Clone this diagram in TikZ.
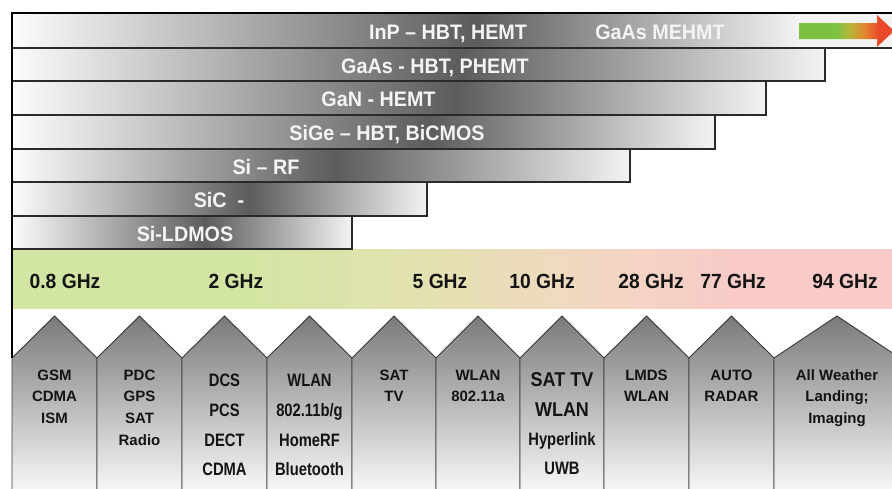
\documentclass[tikz,border=0pt]{standalone}
\usepackage{fontspec}
\setmainfont{Liberation Sans}
\newfontfamily\barfont[FakeStretch=0.94]{Liberation Sans}
\newfontfamily\narfont[FakeStretch=0.82]{Liberation Sans}
\newfontfamily\midfont[FakeStretch=0.9]{Liberation Sans}
\definecolor{barDark}{HTML}{5C5C5C}
\definecolor{barLight}{HTML}{F3F3F3}
\definecolor{barWhite}{HTML}{FCFCFC}
\definecolor{barEdge}{HTML}{2A2A2A}
\definecolor{barText}{HTML}{F4F4F4}
\definecolor{bandGreen}{HTML}{D3E5A3}
\definecolor{bandYellow}{HTML}{E5E1B2}
\definecolor{bandBeige}{HTML}{F1D9C1}
\definecolor{bandPink}{HTML}{F8CAC8}
\definecolor{penTop}{HTML}{7A7A7A}
\definecolor{penBot}{HTML}{F8F8F8}
\definecolor{penEdge}{HTML}{383838}
\definecolor{appText}{HTML}{141414}
\definecolor{agreen}{HTML}{7DC143}
\definecolor{ayellow}{HTML}{B3B83A}
\definecolor{aorange}{HTML}{E0892F}
\definecolor{ared}{HTML}{E9482A}
\pgfdeclarehorizontalshading{arrowshade}{100bp}{color(0bp)=(agreen); color(45bp)=(agreen); color(51bp)=(ayellow); color(59bp)=(aorange); color(67bp)=(ared); color(100bp)=(ared)}
\pgfdeclarehorizontalshading{bandshade}{100bp}{color(0bp)=(bandGreen); color(38.5bp)=(bandGreen); color(49.3bp)=(bandYellow); color(56.7bp)=(bandBeige); color(66.4bp)=(bandPink); color(100bp)=(bandPink)}
\newcommand\techbar[5]{%
  \shade[left color=barWhite,right color=barDark] (12,#1) rectangle (#3+0.5,#2);
  \shade[left color=barDark,right color=barLight] (#3,#1) rectangle (#4,#2);
  \fill[barLight] (#4-0.5,#1) rectangle (#5,#2);
  \draw[barline] (12,#1) rectangle (#5,#2);}
\tikzset{
  barline/.style={draw=barEdge, line width=1.3},
  barlabel/.style={anchor=base, inner sep=0, text=barText, font=\barfont\bfseries\fontsize{21}{24}\selectfont},
  freqlabel/.style={anchor=base, inner sep=0, text=appText, font=\barfont\bfseries\fontsize{20.5}{24}\selectfont},
  apptext/.style={anchor=base, inner sep=0, text=appText, font=\bfseries\fontsize{15}{18}\selectfont},
  appnarrow/.style={anchor=base, inner sep=0, text=appText, font=\narfont\bfseries\fontsize{18}{20}\selectfont},
  appbig/.style={anchor=base, inner sep=0, text=appText, font=\midfont\bfseries\fontsize{20}{22}\selectfont},
  pentagon/.style={top color=penTop, bottom color=penBot, draw=penEdge, line width=0.9},
}
\begin{document}
\begin{tikzpicture}[x=1pt,y=-1pt]
\useasboundingbox (0,0) rectangle (892,488);
\begin{scope}
\clip (0,0) rectangle (892,488);
\fill[white] (0,0) rectangle (892,488);
% frequency band
\shade[shading=bandshade] (12,249) rectangle (892,308);
% technology bars
\techbar{216}{249}{205}{352}{352}
\techbar{182}{216}{250}{427}{427}
\techbar{149}{182}{335}{630}{630}
\techbar{115}{149}{430}{715}{715}
\techbar{81}{115}{455}{766}{766}
\techbar{48}{81}{460}{825}{825}
\techbar{13}{48}{475}{800}{900}
\draw[black, line width=1.6] (12,13) -- (892,13);
% application pentagons
\foreach \l/\r/\p in {12/97/54.5, 97/182/139.5, 182/267/224.5, 267/352/309.5, 352/436/394, 436/520/478, 520/604/562, 604/689/646.5, 689/774/731.5}
  \shadedraw[pentagon] (\l,492) -- (\l,358) -- (\p,316) -- (\r,358) -- (\r,492) -- cycle;
\shadedraw[pentagon] (774,492) -- (774,358) -- (837,316) -- (900,358) -- (900,492) -- cycle;
% arrow
\shade[shading=arrowshade] (799,23) -- (877,23) -- (877,15) -- (894,31) -- (877,47) -- (877,39) -- (799,39) -- cycle;
\draw[black, line width=2.4] (12,12.2) -- (12,358);
\end{scope}
% bar labels
\node[barlabel] (inp) at (448,39) {InP – HBT, HEMT};
\node[barlabel] (mehmt) at (660,39) {GaAs MEHMT};
\node[barlabel] (gaas) at (435,73) {GaAs - HBT, PHEMT};
\node[barlabel] (gan) at (378.5,106.5) {GaN - HEMT};
\node[barlabel] (sige) at (387,140.5) {SiGe – HBT, BiCMOS};
\node[barlabel] (sirf) at (266,174) {Si – RF};
\node[barlabel] (sic) at (219,207.5) {SiC\ \ -};
\node[barlabel] (ldmos) at (185,241) {Si-LDMOS};
% frequency labels
\node[freqlabel] (f1) at (65,288) {0.8 GHz};
\node[freqlabel] (f2) at (236,288) {2 GHz};
\node[freqlabel] (f3) at (440,288) {5 GHz};
\node[freqlabel] (f4) at (542,288) {10 GHz};
\node[freqlabel] (f5) at (651,288) {28 GHz};
\node[freqlabel] (f6) at (733,288) {77 GHz};
\node[freqlabel] (f7) at (845,288) {94 GHz};
% application texts
\node[apptext] (c1a) at (54.5,380) {GSM};
\node[apptext] (c1b) at (54.5,401.5) {CDMA};
\node[apptext] (c1c) at (54.5,423) {ISM};
\node[apptext] (c2a) at (139.5,380) {PDC};
\node[apptext] (c2b) at (139.5,401.5) {GPS};
\node[apptext] (c2c) at (139.5,423) {SAT};
\node[apptext] (c2d) at (139.5,445) {Radio};
\node[appnarrow] (c3a) at (224.5,386.5) {DCS};
\node[appnarrow] (c3b) at (224.5,416.5) {PCS};
\node[appnarrow] (c3c) at (224.5,446) {DECT};
\node[appnarrow] (c3d) at (224.5,475) {CDMA};
\node[appnarrow] (c4a) at (309.5,386.5) {WLAN};
\node[appnarrow] (c4b) at (309.5,416.5) {802.11b/g};
\node[appnarrow] (c4c) at (309.5,446) {HomeRF};
\node[appnarrow] (c4d) at (309.5,475) {Bluetooth};
\node[apptext] (c5a) at (394,380) {SAT};
\node[apptext] (c5b) at (394,401) {TV};
\node[apptext] (c6a) at (478,380) {WLAN};
\node[apptext] (c6b) at (478,401.5) {802.11a};
\node[appbig] (c7a) at (562,386) {SAT TV};
\node[appbig] (c7b) at (562,416) {WLAN};
\node[appnarrow] (c7c) at (562,445) {Hyperlink};
\node[appnarrow] (c7d) at (562,474) {UWB};
\node[apptext] (c8a) at (646.5,380) {LMDS};
\node[apptext] (c8b) at (646.5,401.5) {WLAN};
\node[apptext] (c9a) at (731.5,380) {AUTO};
\node[apptext] (c9b) at (731.5,401.5) {RADAR};
\node[apptext] (c10a) at (837,380) {All Weather};
\node[apptext] (c10b) at (837,401.5) {Landing;};
\node[apptext] (c10c) at (837,423) {Imaging};
\end{tikzpicture}
\end{document}
